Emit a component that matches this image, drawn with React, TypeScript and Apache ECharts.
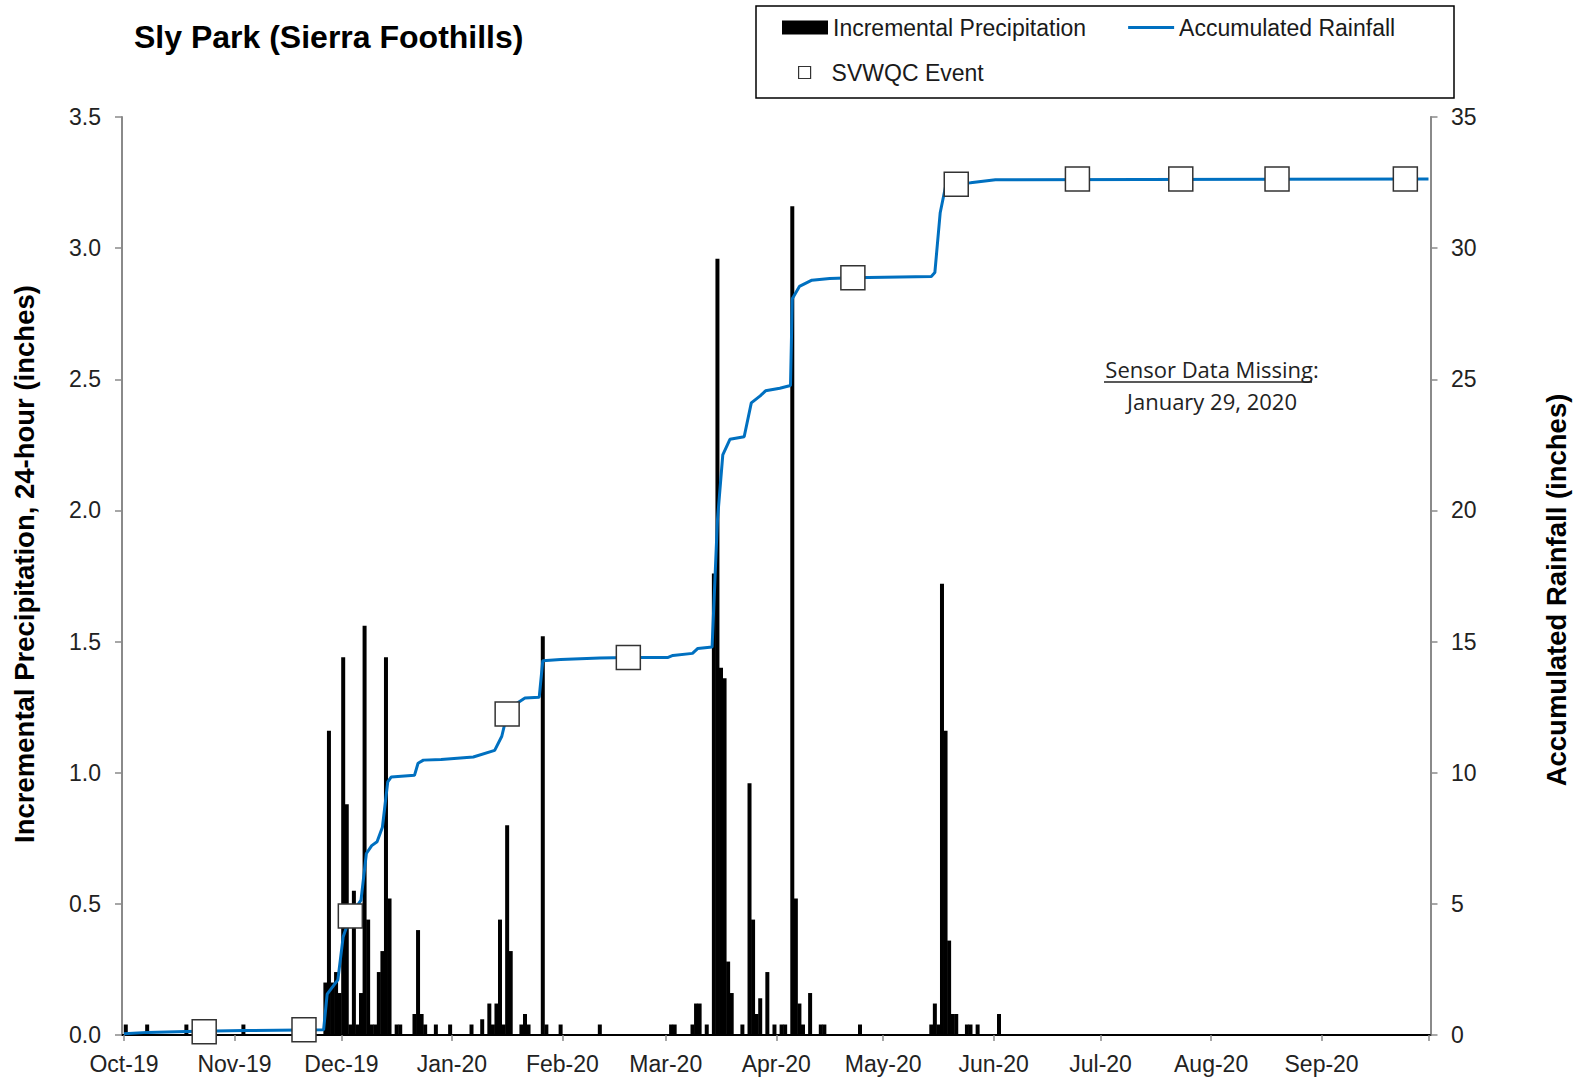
import React, { useEffect, useRef } from 'react';
import * as echarts from 'echarts';

const FONT = 'Liberation Sans, Arial, sans-serif';
const NOTE_FONT = 'Open Sans, Noto Sans, sans-serif';

const monthLabels = ['Jan', 'Feb', 'Mar', 'Apr', 'May', 'Jun', 'Jul', 'Aug', 'Sep', 'Oct', 'Nov', 'Dec'];
const leftTicks = [0, 0.5, 1.0, 1.5, 2.0, 2.5, 3.0, 3.5];
const rightTicks = [0, 5, 10, 15, 20, 25, 30, 35];

// Incremental precipitation, 24-hour (inches), one bar per day
const precipDates = [
  '2019-10-01', '2019-10-07', '2019-10-18', '2019-11-03',
  '2019-11-26', '2019-11-27', '2019-11-28', '2019-11-29', '2019-11-30', '2019-12-01', '2019-12-02',
  '2019-12-03', '2019-12-04', '2019-12-05', '2019-12-06', '2019-12-07', '2019-12-08', '2019-12-09',
  '2019-12-10', '2019-12-11', '2019-12-12', '2019-12-13', '2019-12-14', '2019-12-16', '2019-12-17',
  '2019-12-21', '2019-12-22', '2019-12-23', '2019-12-24', '2019-12-27', '2019-12-31',
  '2020-01-06', '2020-01-09', '2020-01-11', '2020-01-12', '2020-01-13', '2020-01-14', '2020-01-15',
  '2020-01-16', '2020-01-17', '2020-01-20', '2020-01-21', '2020-01-22', '2020-01-26', '2020-01-27',
  '2020-01-31', '2020-02-11',
  '2020-03-02', '2020-03-03', '2020-03-08', '2020-03-09', '2020-03-10', '2020-03-12', '2020-03-14',
  '2020-03-15', '2020-03-16', '2020-03-17', '2020-03-18', '2020-03-19', '2020-03-22', '2020-03-24',
  '2020-03-25', '2020-03-26', '2020-03-27', '2020-03-29', '2020-03-31',
  '2020-04-02', '2020-04-03', '2020-04-05', '2020-04-06', '2020-04-07', '2020-04-08', '2020-04-10',
  '2020-04-13', '2020-04-14', '2020-04-24',
  '2020-05-14', '2020-05-15', '2020-05-16', '2020-05-17', '2020-05-18', '2020-05-19', '2020-05-20',
  '2020-05-21', '2020-05-24', '2020-05-25', '2020-05-27', '2020-06-02'
];
const precipValues = [
  0.04, 0.04, 0.04, 0.04,
  0.20, 1.16, 0.20, 0.24, 0.16, 1.44, 0.88,
  0.04, 0.55, 0.04, 0.16, 1.56, 0.44, 0.04,
  0.04, 0.24, 0.32, 1.44, 0.52, 0.04, 0.04,
  0.08, 0.40, 0.08, 0.04, 0.04, 0.04,
  0.04, 0.06, 0.12, 0.04, 0.12, 0.44, 0.04,
  0.80, 0.32, 0.04, 0.08, 0.04, 1.52, 0.04,
  0.04, 0.04,
  0.04, 0.04, 0.04, 0.12, 0.12, 0.04, 1.76,
  2.96, 1.40, 1.36, 0.28, 0.16, 0.04, 0.96,
  0.44, 0.08, 0.14, 0.24, 0.04,
  0.04, 0.04, 3.16, 0.52, 0.12, 0.04, 0.16,
  0.04, 0.04, 0.04,
  0.04, 0.12, 0.04, 1.72, 1.16, 0.36, 0.08,
  0.08, 0.04, 0.04, 0.04, 0.08
];

// Accumulated rainfall (inches)
const accumTimes = [
  '2019-10-01 00:00', '2019-10-07 12:00', '2019-10-18 12:00', '2019-11-03 12:00', '2019-11-26 00:00',
  '2019-11-27 00:00', '2019-11-30 00:00', '2019-12-01 12:00', '2019-12-03 12:00', '2019-12-06 12:00',
  '2019-12-08 00:00', '2019-12-09 12:00', '2019-12-11 00:00', '2019-12-12 12:00', '2019-12-14 00:00',
  '2019-12-15 00:00', '2019-12-21 12:00', '2019-12-22 12:00', '2019-12-24 00:00', '2019-12-29 00:00',
  '2020-01-07 00:00', '2020-01-13 00:00', '2020-01-15 00:00', '2020-01-16 12:00', '2020-01-18 12:00',
  '2020-01-21 12:00', '2020-01-25 12:00', '2020-01-26 12:00', '2020-01-31 12:00', '2020-02-11 12:00',
  '2020-02-19 12:00', '2020-03-01 12:00', '2020-03-03 00:00', '2020-03-08 12:00', '2020-03-10 00:00',
  '2020-03-14 00:00', '2020-03-15 12:00', '2020-03-17 00:00', '2020-03-19 00:00', '2020-03-23 00:00',
  '2020-03-25 00:00', '2020-03-27 12:00', '2020-03-29 00:00', '2020-04-02 00:00', '2020-04-05 00:00',
  '2020-04-05 12:00', '2020-04-07 12:00', '2020-04-11 00:00', '2020-04-16 00:00', '2020-04-22 12:00',
  '2020-05-14 12:00', '2020-05-15 12:00', '2020-05-17 00:00', '2020-05-18 12:00', '2020-05-21 12:00',
  '2020-05-25 12:00', '2020-06-01 12:00', '2020-10-01 00:00'
];
const accumValues = [
  0.05, 0.1, 0.13, 0.17, 0.2,
  1.56, 2.1, 3.75, 4.54, 5.14,
  6.92, 7.22, 7.37, 7.92, 9.65,
  9.84, 9.9, 10.36, 10.48, 10.5,
  10.6, 10.85, 11.39, 12.24, 12.58,
  12.85, 12.88, 14.27, 14.32, 14.37,
  14.39, 14.39, 14.47, 14.55, 14.74,
  14.79, 19.63, 22.12, 22.71, 22.81,
  24.1, 24.37, 24.56, 24.66, 24.76,
  28.07, 28.54, 28.78, 28.84, 28.87,
  28.92, 29.07, 31.35, 32.35, 32.44,
  32.49, 32.61, 32.64
];

// SVWQC events (on the accumulated curve)
const eventDates = [
  '2019-10-23', '2019-11-20', '2019-12-03', '2020-01-16', '2020-02-19', '2020-04-22',
  '2020-05-21', '2020-06-24', '2020-07-23', '2020-08-19', '2020-09-24'
];
const eventValues = [0.12, 0.2, 4.54, 12.24, 14.39, 28.87, 32.44, 32.64, 32.64, 32.64, 32.64];

const AXIS_MIN = '2019-10-01';
const AXIS_MAX = '2020-10-01';

function monthLabel(val: number) {
  const d = new Date(val);
  if (d.getTime() >= new Date(2020, 9, 1).getTime() - 1000) return '';
  return monthLabels[d.getMonth()] + '-' + String(d.getFullYear()).slice(2);
}

export default function App() {
  const ref = useRef<HTMLDivElement>(null);
  useEffect(() => {
    const chart = echarts.init(ref.current!, null, { renderer: 'svg' });
    const DAY = 24 * 3600 * 1000;
    const axisGray = '#8a8a8a';
    const option: any = {
      animation: false,
      backgroundColor: '#ffffff',
      title: {
        text: 'Sly Park (Sierra Foothills)',
        left: 134,
        top: 21,
        padding: 0,
        textStyle: { fontFamily: FONT, fontSize: 32, fontWeight: 'bold', color: '#000' }
      },
      legend: [
        {
          left: 782,
          top: 16,
          padding: 0,
          itemWidth: 46,
          itemHeight: 14,
          itemGap: 42,
          selectedMode: false,
          textStyle: { fontFamily: FONT, fontSize: 23, color: '#1a1a1a' },
          data: [
            { name: 'Incremental Precipitation', icon: 'rect' },
            { name: 'Accumulated Rainfall', icon: 'path://M0,0H48V3H0Z' }
          ]
        },
        {
          left: 798,
          top: 61,
          padding: 0,
          itemWidth: 12,
          itemHeight: 12,
          selectedMode: false,
          textStyle: { fontFamily: FONT, fontSize: 23, color: '#1a1a1a', padding: [0, 0, 0, 16] },
          itemStyle: { color: '#ffffff', borderColor: '#333333', borderWidth: 1.2 },
          data: [{ name: 'SVWQC Event', icon: 'rect' }]
        }
      ],
      grid: { left: 122, right: 148.5, top: 117, bottom: 50, containLabel: false },
      xAxis: [
        {
          type: 'time',
          min: AXIS_MIN,
          max: AXIS_MAX,
          minInterval: 28 * DAY,
          maxInterval: 31 * DAY,
          axisLine: { show: true, lineStyle: { color: axisGray, width: 2 } },
          axisTick: { show: true, length: 6, lineStyle: { color: axisGray, width: 1.5 } },
          axisLabel: {
            formatter: monthLabel,
            fontFamily: FONT,
            fontSize: 23,
            color: '#222',
            margin: 17,
            hideOverlap: false
          },
          splitLine: { show: false }
        },
        {
          type: 'time',
          position: 'top',
          min: AXIS_MIN,
          max: AXIS_MAX,
          axisLine: { show: true, lineStyle: { color: '#000', width: 2 } },
          axisTick: { show: false },
          axisLabel: { show: false },
          splitLine: { show: false }
        }
      ],
      yAxis: [
        {
          type: 'value',
          min: leftTicks[0],
          max: leftTicks[leftTicks.length - 1],
          interval: 0.5,
          axisLine: { show: true, lineStyle: { color: axisGray, width: 2 } },
          axisTick: { show: true, length: 7, lineStyle: { color: axisGray, width: 1.5 } },
          axisLabel: {
            formatter: (v: number) => v.toFixed(1),
            fontFamily: FONT,
            fontSize: 23,
            color: '#222',
            margin: 21
          },
          splitLine: { show: false }
        },
        {
          type: 'value',
          min: rightTicks[0],
          max: rightTicks[rightTicks.length - 1],
          interval: 5,
          position: 'right',
          axisLine: { show: true, lineStyle: { color: axisGray, width: 2 } },
          axisTick: { show: true, length: 7, lineStyle: { color: axisGray, width: 1.5 } },
          axisLabel: { fontFamily: FONT, fontSize: 23, color: '#222', margin: 20.5 },
          splitLine: { show: false }
        }
      ],
      graphic: [
        {
          type: 'rect',
          shape: { x: 756, y: 6, width: 698, height: 92 },
          style: { fill: 'none', stroke: '#000', lineWidth: 1.5 },
          z: 1
        },
        {
          type: 'text',
          x: 24,
          y: 564,
          rotation: Math.PI / 2,
          style: {
            text: 'Incremental Precipitation, 24-hour (inches)',
            fontFamily: FONT,
            fontSize: 27.5,
            fontWeight: 'bold',
            fill: '#000',
            align: 'center',
            verticalAlign: 'middle'
          }
        },
        {
          type: 'text',
          x: 1556,
          y: 590,
          rotation: Math.PI / 2,
          style: {
            text: 'Accumulated Rainfall (inches)',
            fontFamily: FONT,
            fontSize: 27.5,
            fontWeight: 'bold',
            fill: '#000',
            align: 'center',
            verticalAlign: 'middle'
          }
        },
        {
          type: 'text',
          x: 1212,
          y: 369,
          style: {
            text: 'Sensor Data Missing:',
            fontFamily: NOTE_FONT,
            fontSize: 22,
            fill: '#222',
            align: 'center',
            verticalAlign: 'middle'
          }
        },
        {
          type: 'line',
          shape: { x1: 1104, y1: 382, x2: 1312, y2: 382 },
          style: { stroke: '#222', lineWidth: 1.3 }
        },
        {
          type: 'text',
          x: 1212,
          y: 401,
          style: {
            text: 'January 29, 2020',
            fontFamily: NOTE_FONT,
            fontSize: 22,
            fill: '#222',
            align: 'center',
            verticalAlign: 'middle'
          }
        }
      ],
      series: [
        {
          name: 'Incremental Precipitation',
          type: 'bar',
          xAxisIndex: 0,
          yAxisIndex: 0,
          barWidth: 4,
          itemStyle: { color: '#000' },
          data: precipDates.map((d, i) => [d + ' 12:00', precipValues[i]]),
          z: 2
        },
        {
          name: 'Accumulated Rainfall',
          type: 'line',
          xAxisIndex: 0,
          yAxisIndex: 1,
          symbol: 'none',
          lineStyle: { color: '#0070C0', width: 3 },
          itemStyle: { color: '#0070C0' },
          data: accumTimes.map((d, i) => [d, accumValues[i]]),
          z: 3
        },
        {
          name: 'SVWQC Event',
          type: 'scatter',
          xAxisIndex: 0,
          yAxisIndex: 1,
          symbol: 'rect',
          symbolSize: 24,
          itemStyle: { color: '#ffffff', borderColor: '#333333', borderWidth: 1.5, opacity: 1 },
          data: eventDates.map((d, i) => [d + ' 12:00', eventValues[i]]),
          z: 4
        }
      ]
    };
    chart.setOption(option);
    return () => chart.dispose();
  }, []);
  return (
    <div
      ref={ref}
      style={{ position: 'absolute', left: 0, top: 0, width: 1579, height: 1085, background: '#fff' }}
    />
  );
}
